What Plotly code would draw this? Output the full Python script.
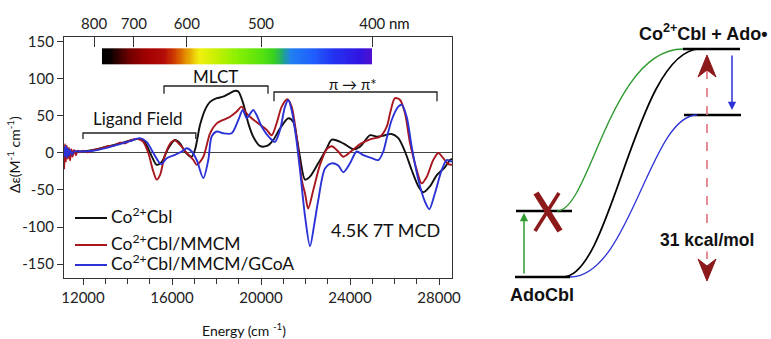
import plotly.graph_objects as go
import numpy as np

# ---------------- data ----------------
energy_black = [11150, 11270, 11865, 12460, 13065, 13660, 14110, 14490, 14710, 14890,
                15090, 15310, 15540, 15830, 16130, 16360, 16580, 16880, 17030, 17260,
                17480, 17710, 18010, 18300, 18610, 18830, 18980, 19200, 19430, 19650,
                19950, 20260, 20550, 20850, 21230, 21450, 21600, 21750, 21980, 22200,
                22570, 22950, 23180, 23700, 24150, 24450, 24900, 25200, 25570, 25870,
                26170, 26470, 26770, 27070, 27290, 27590, 27900, 28270, 28490, 28584]
mcd_black = [0, 2, 2, 4, 8.5, 13, 16.5, 19, 17.5, 8.5,
             -4.5, -16, -12, 6, 17.5, 13, 2, -5, 4, 38,
             58, 69, 74, 76, 81, 84, 83, 67, 40, 22,
             9.5, 9.5, 17.5, 33, 47, 42, 22, -5, -36, -32,
             -14, 6, 18, 13, 5, 8.5, 24, 22, 24, 25.7,
             20, 2, -23, -45, -53, -45, -30, -19, -9.5, -8]

energy_red = [11150, 11190, 11230, 11270, 11320, 11370, 11420, 11470, 11530, 11600,
              11680, 11760, 11865, 12000, 12200, 12460, 12800, 13065, 13400, 13660,
              13900, 14110, 14400, 14560, 14710, 14935, 15160, 15310, 15460, 15690,
              15980, 16130, 16360, 16660, 16960, 17110, 17410, 17710, 18010, 18300,
              18610, 18910, 19130, 19280, 19580, 19880, 20260, 20480, 20700, 20930,
              21180, 21375, 21600, 21830, 21980, 22120, 22350, 22650, 22950, 23180,
              23470, 23700, 24080, 24450, 24900, 25350, 25650, 25800, 26020, 26250,
              26470, 26700, 27000, 27220, 27450, 27740, 27970, 28190, 28420, 28584]
mcd_red = [-22, 12, -12, 10, -8, 7, -10, 5, -5, 4,
           -3, 3, 1, 3, 1, 4, 6, 9, 10, 14,
           13, 17, 19, 18, 15, 0, -25, -36, -30, -2,
           15, 17, 11, 0, -9.5, -16, -5, 26.6, 40, 44.6,
           49, 56, 62.6, 56, 47, 40, 31, 24, 40, 62.6,
           72.5, 62.6, 22, -36, -55, -75, -50, -16, 5, 9,
           2, -5, 3, 12, 18.5, 22, 35.5, 53.6, 74, 71.6,
           53.6, 13, -23, -41, -32, -9.5, 0, -7, -15, -16]

energy_blue = [11150, 11190, 11230, 11270, 11320, 11370, 11420, 11500, 11600, 11865,
               12460, 13065, 13660, 14110, 14560, 14860, 15160, 15430, 15540, 15760,
               16130, 16435, 16660, 16885, 17110, 17406, 17630, 17780, 18010, 18300,
               18680, 18980, 19180, 19357, 19650, 19806, 20031, 20404, 20629, 20853,
               21078, 21226, 21375, 21572, 21752, 21976, 22201, 22400, 22574, 22875,
               23176, 23473, 23698, 23999, 24299, 24597, 24974, 25275, 25496, 25649,
               25873, 26170, 26323, 26547, 26771, 27069, 27370, 27563, 27820, 28121,
               28346, 28584]
mcd_blue = [8, -5, 10, -6, 6, -4, 4, -2, 2, 2,
            3, 7, 12, 16, 20, 15, 0, -13, -15, -7,
            -2.4, 2, 6.3, 2, -9.5, -34, -9.5, 22, 29, 26.6,
            26.6, 44.6, 58, 47, 58, 51, 35.5, 20, 15, 31,
            62.6, 71.6, 58, 22, -23, -85, -126, -95, -63.5, -21,
            -14, -17, -26, -14, 2, -3, -7, -9.5, 2, 20,
            44.6, 62.6, 65, 49, 8.5, -36, -66, -76, -54, -23,
            -9.5, -12]

assert len(energy_black) == len(mcd_black)
assert len(energy_red) == len(mcd_red)
assert len(energy_blue) == len(mcd_blue)

series_names = ["Co<sup>2+</sup>Cbl", "Co<sup>2+</sup>Cbl/MMCM", "Co<sup>2+</sup>Cbl/MMCM/GCoA"]
x_ticks = [12000, 16000, 20000, 24000, 28000]
x_tick_labels = ["12000", "16000", "20000", "24000", "28000"]
y_ticks = [-150, -100, -50, 0, 50, 100, 150]
y_tick_labels = ["-150", "-100", "-50", "0", "50", "100", "150"]
nm_ticks = [800, 700, 600, 500, 400]

# energy-level diagram (schematic levels, pixel units)
level_ado = 277
level_x = 211
level_top = 49
level_mid = 115

# ---------------- styling ----------------
W, H = 771, 339
FONT = "Lato"
DFONT = "Liberation Sans"
C_BLACK = "#111111"
C_RED = "#a8161e"
C_BLUE = "#2b33d6"
C_GREEN = "#2f9a2f"
C_DRED = "#8c1a1a"


def px(x):
    return x / W


def py(y):
    return 1 - y / H


X_RANGE = [11146, 28583]
Y_RANGE = [-168.9, 156.7]

fig = go.Figure()

# colour spectrum bar (decorative)
n_cells = 240
bar_edges = np.linspace(12853, 25000, n_cells + 1)
bar_z = [np.linspace(0, 1, n_cells).tolist()]
spectrum = [
    [0.00, "#000000"], [0.03, "#0a0000"], [0.10, "#700000"], [0.16, "#a00000"],
    [0.23, "#b40c08"], [0.27, "#d04000"], [0.31, "#e39000"], [0.36, "#f2f010"],
    [0.42, "#c8f000"], [0.50, "#8af000"], [0.60, "#52e010"], [0.64, "#34d020"],
    [0.675, "#20a090"], [0.70, "#2080f0"], [0.78, "#2060ff"], [0.86, "#2432f0"],
    [0.96, "#3214e0"], [1.00, "#5010d0"],
]
fig.add_trace(go.Heatmap(x=bar_edges, y=[120.2, 141.4], z=bar_z, colorscale=spectrum,
                         showscale=False, hoverinfo="skip", xaxis="x2", yaxis="y"))

for xs, ys, col, name in [(energy_black, mcd_black, C_BLACK, series_names[0]),
                          (energy_red, mcd_red, C_RED, series_names[1]),
                          (energy_blue, mcd_blue, C_BLUE, series_names[2])]:
    fig.add_trace(go.Scatter(x=xs, y=ys, mode="lines", name=name,
                             line=dict(color=col, width=1.9, shape="spline", smoothing=0.8),
                             showlegend=False, xaxis="x", yaxis="y"))

# diagram levels
levels = [([515, 570], level_ado), ([516, 572], level_x),
          ([683, 740], level_top), ([684, 741], level_mid)]
for xs, lv in levels:
    fig.add_trace(go.Scatter(x=xs, y=[lv, lv], mode="lines",
                             line=dict(color="#000000", width=2.6),
                             showlegend=False, hoverinfo="skip", xaxis="x3", yaxis="y3"))

shapes = []
annotations = []

# brackets
def bracket(x0, x1, yl, ye):
    shapes.append(dict(type="path", xref="x", yref="y",
                       path=f"M {x0},{ye} L {x0},{yl} L {x1},{yl} L {x1},{ye}",
                       line=dict(color="#222222", width=1.3)))

bracket(12000, 17070, 27, 19)
bracket(15640, 20314, 90.5, 80)
bracket(20583, 27909, 82.4, 70)

annotations += [
    dict(x=14472, y=47, xref="x", yref="y", text="Ligand Field", showarrow=False,
         font=dict(family=FONT, size=17, color="#111")),
    dict(x=17932, y=104, xref="x", yref="y", text="MLCT", showarrow=False,
         font=dict(family=FONT, size=17, color="#111")),
    dict(x=24134, y=93, xref="x", yref="y", text="π → π*", showarrow=False,
         font=dict(family=FONT, size=15, color="#111")),
    dict(x=px(385), y=py(230), xref="paper", yref="paper", text="4.5K 7T MCD", showarrow=False,
         xanchor="center", yanchor="middle",
         font=dict(family=FONT, size=18, color="#111")),
    dict(x=px(399), y=py(23), xref="paper", yref="paper", text="nm", showarrow=False,
         xanchor="center", yanchor="middle",
         font=dict(family=FONT, size=15, color="#111")),
    dict(x=px(13), y=py(155), xref="paper", yref="paper",
         text="Δε(M<sup>-1</sup> cm<sup>-1</sup>)", textangle=-90, showarrow=False,
         xanchor="center", yanchor="middle",
         font=dict(family=FONT, size=14, color="#111")),
    dict(x=px(244), y=py(329), xref="paper", yref="paper",
         text="Energy (cm <sup>-1</sup>)", showarrow=False,
         xanchor="center", yanchor="middle",
         font=dict(family=FONT, size=14, color="#111")),
]

# custom legend
for yy, col, name in [(218, C_BLACK, series_names[0]), (245, C_RED, series_names[1]),
                      (265, C_BLUE, series_names[2])]:
    shapes.append(dict(type="line", xref="paper", yref="paper", x0=px(75), x1=px(107),
                       y0=py(yy), y1=py(yy), line=dict(color=col, width=2)))
    annotations.append(dict(x=px(109), y=py(yy + 11), xref="paper", yref="paper", text=name,
                            xanchor="left", yanchor="bottom", showarrow=False,
                            font=dict(family=FONT, size=17.5, color="#111")))

# diagram curves (schematic Bezier paths)
shapes += [
    dict(type="path", xref="x3", yref="y3", path="M 557,211 C 590,211 610,49 683,49",
         line=dict(color=C_GREEN, width=1.4)),
    dict(type="path", xref="x3", yref="y3", path="M 563,277 C 612,277 636,49 700,49",
         line=dict(color="#000000", width=1.7)),
    dict(type="path", xref="x3", yref="y3", path="M 570,277 C 630,277 650,115 697,115",
         line=dict(color=C_BLUE, width=1.3)),
    # big X
    dict(type="line", xref="x3", yref="y3", x0=536, y0=193, x1=560, y1=231,
         line=dict(color=C_DRED, width=6)),
    dict(type="line", xref="x3", yref="y3", x0=559, y0=193, x1=535, y1=231,
         line=dict(color=C_DRED, width=3.5)),
    # dashed energy gap
    dict(type="line", xref="x3", yref="y3", x0=707, y0=70, x1=707, y1=266,
         line=dict(color="#e0707e", width=1.6, dash="dash")),
    dict(type="path", xref="x3", yref="y3", path="M 707,55 L 716,77 L 707,70 L 698,77 Z",
         fillcolor=C_DRED, line=dict(color=C_DRED, width=1)),
    dict(type="path", xref="x3", yref="y3", path="M 707,281 L 716,259 L 707,266 L 698,259 Z",
         fillcolor=C_DRED, line=dict(color=C_DRED, width=1)),
]

annotations += [
    dict(x=524, y=213, ax=524, ay=275, xref="x3", yref="y3", axref="x3", ayref="y3",
         text="", showarrow=True, arrowhead=2, arrowsize=1.1, arrowwidth=1.5, arrowcolor=C_GREEN),
    dict(x=732, y=110, ax=732, ay=54, xref="x3", yref="y3", axref="x3", ayref="y3",
         text="", showarrow=True, arrowhead=2, arrowsize=1.1, arrowwidth=1.5, arrowcolor=C_BLUE),
    dict(x=542, y=295, xref="x3", yref="y3", text="AdoCbl", showarrow=False,
         font=dict(family=DFONT, size=18, color="#111", weight="bold")),
    dict(x=637, y=32, xref="x3", yref="y3", text="Co<sup>2+</sup>Cbl + Ado•", xanchor="left",
         showarrow=False, font=dict(family=DFONT, size=18, color="#111", weight="bold")),
    dict(x=707, y=240, xref="x3", yref="y3", text="31 kcal/mol", showarrow=False,
         bgcolor="white", font=dict(family=DFONT, size=17.5, color="#111", weight="bold")),
]

axis_font = dict(family=FONT, size=15, color="#222")
fig.update_layout(
    width=W, height=H,
    margin=dict(l=0, r=0, t=0, b=0),
    paper_bgcolor="white", plot_bgcolor="white",
    showlegend=False,
    xaxis=dict(domain=[px(64), px(452)], range=X_RANGE, tickvals=x_ticks, ticktext=x_tick_labels,
               ticks="outside", ticklen=6, tickwidth=1.2, tickcolor="#333",
               minor=dict(dtick=1000, tick0=12000, ticks="outside", ticklen=5, tickcolor="#333"),
               showline=True, linecolor="#333", linewidth=1.3, mirror=True,
               showgrid=False, zeroline=False, tickfont=axis_font, anchor="y",
               automargin=False),
    xaxis2=dict(overlaying="x", side="top", range=X_RANGE, anchor="y",
                tickvals=[1e7 / w for w in nm_ticks], ticktext=[str(w) for w in nm_ticks],
                ticks="inside", ticklen=10, tickwidth=1.2, tickcolor="#333",
                ticklabelstandoff=4,
                showline=False, showgrid=False, zeroline=False, tickfont=axis_font,
                automargin=False),
    yaxis=dict(domain=[py(278), py(37)], range=Y_RANGE, tickvals=y_ticks, ticktext=y_tick_labels,
               ticks="outside", ticklen=6, tickwidth=1.2, tickcolor="#333",
               showline=True, linecolor="#333", linewidth=1.3, mirror=True,
               showgrid=False, zeroline=True, zerolinecolor="#444", zerolinewidth=1.3,
               tickfont=axis_font, anchor="x", automargin=False),
    xaxis3=dict(domain=[px(460), 1], range=[460, 771], visible=False, anchor="y3",
                fixedrange=True),
    yaxis3=dict(domain=[0, 1], range=[339, 0], visible=False, anchor="x3", fixedrange=True),
    shapes=shapes,
    annotations=annotations,
)

fig.write_html("out.html", config={"displayModeBar": False},
               post_script="document.body.style.margin='0px';")
